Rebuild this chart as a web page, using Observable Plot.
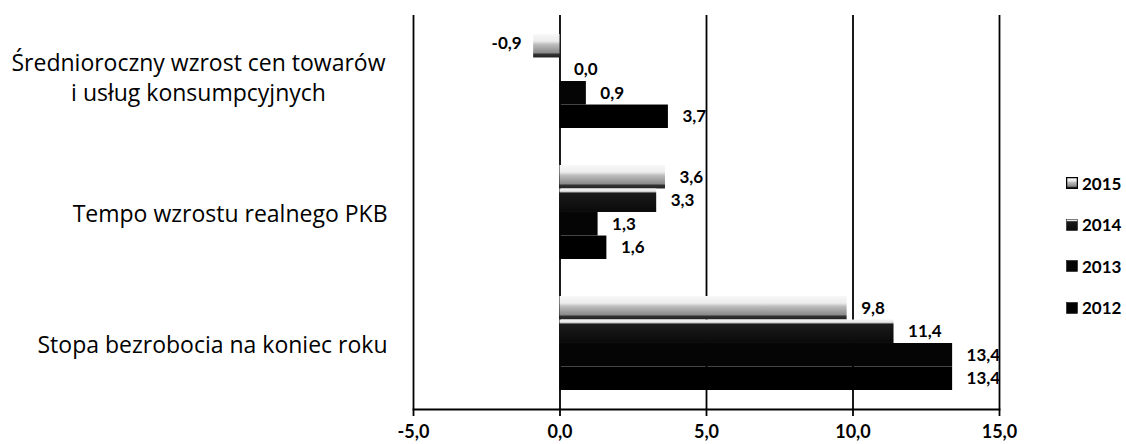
<!DOCTYPE html>
<html>
<head>
<meta charset="utf-8">
<script src="https://cdn.jsdelivr.net/npm/d3@7"></script>
<script src="https://cdn.jsdelivr.net/npm/@observablehq/plot@0.6"></script>
<style>
  body { margin: 0; background: #fff; }
  #chart { position: relative; width: 1126px; height: 444px; font-family: Lato, "Open Sans", sans-serif; color: #000; }
  #legend { position: absolute; left: 1066px; top: 0; font: bold 17px Lato, sans-serif; }
  .item { position: absolute; left: 0; display: flex; align-items: center; white-space: nowrap; }
  .item svg { margin-right: 4px; }
</style>
</head>
<body>
<svg width="0" height="0" style="position:absolute">
  <defs>
    <linearGradient id="g2015" x1="0" y1="0" x2="0" y2="1">
      <stop offset="0" stop-color="#f8f8f8"/>
      <stop offset="0.3" stop-color="#ececec"/>
      <stop offset="0.45" stop-color="#bcbcbc"/>
      <stop offset="0.8" stop-color="#8a8a8a"/>
      <stop offset="0.86" stop-color="#333"/>
      <stop offset="1" stop-color="#222"/>
    </linearGradient>
    <linearGradient id="g2014" x1="0" y1="0" x2="0" y2="1">
      <stop offset="0" stop-color="#f2f2f2"/>
      <stop offset="0.12" stop-color="#e6e6e6"/>
      <stop offset="0.2" stop-color="#1a1a1a"/>
      <stop offset="1" stop-color="#0a0a0a"/>
    </linearGradient>
  </defs>
</svg>
<div id="chart"><div id="legend"></div></div>
<script>
// ---- data ----
const categories = [
  "Średnioroczny wzrost cen towarów\ni usług konsumpcyjnych",
  "Tempo wzrostu realnego PKB",
  "Stopa bezrobocia na koniec roku"
];
const years = ["2015", "2014", "2013", "2012"];
const values2015 = [-0.9, 3.6, 9.8];
const values2014 = [0.0, 3.3, 11.4];
const values2013 = [0.9, 1.3, 13.4];
const values2012 = [3.7, 1.6, 13.4];
const xTicks = [-5, 0, 5, 10, 15];

// ---- build table ----
const seriesLists = [values2015, values2014, values2013, values2012];
const fills = ["url(#g2015)", "url(#g2014)", "#050505", "#000"];
const data = [];
years.forEach((yr, i) => seriesLists[i].forEach((v, j) => data.push({category: categories[j], year: yr, value: v})));

const fmt = v => v.toFixed(1).replace(".", ",");

// layout
const W = 1126, H = 444, mT = 15, mB = 35, mL = 413, mR = 127;
const padIn = 0.284, padOut = 0.142;
const step = (H - mT - mB) / (categories.length - padIn + 2 * padOut);
const bandW = step * (1 - padIn);
const sub = bandW / years.length;

const marks = [
  Plot.ruleX(xTicks, {stroke: "#000", strokeWidth: 1.8})
];
years.forEach((yr, i) => {
  const rows = data.filter(d => d.year === yr);
  marks.push(Plot.barX(rows, {
    x: "value", y: "category", fill: fills[i],
    insetTop: i * sub, insetBottom: (years.length - 1 - i) * sub
  }));
  const dy = -bandW / 2 + sub * (i + 0.5);
  marks.push(Plot.text(rows.filter(d => d.value >= 0), {
    x: "value", y: "category", text: d => fmt(d.value), dy, dx: 14,
    textAnchor: "start", fontSize: 17, fontWeight: "bold", fill: "#000"
  }));
  marks.push(Plot.text(rows.filter(d => d.value < 0), {
    x: "value", y: "category", text: d => fmt(d.value), dy: dy - 3, dx: -12,
    textAnchor: "end", fontSize: 17, fontWeight: "bold", fill: "#000"
  }));
});
const catLabelStyle = {fontSize: 23, lineHeight: 1.3, fill: "#000", fontFamily: "'Open Sans', sans-serif", frameAnchor: "left"};
// single-line labels: right-aligned block
marks.push(Plot.text(categories.filter(c => !c.includes("\n")), {
  y: d => d, text: d => d, dx: -26, textAnchor: "end", ...catLabelStyle
}));
// multi-line labels: lines centred within the block
marks.push(Plot.text(categories.filter(c => c.includes("\n")), {
  y: d => d, text: d => d, dx: -215, dy: -5, textAnchor: "middle", ...catLabelStyle
}));
marks.push(Plot.frame({anchor: "bottom", stroke: "#000", strokeWidth: 1.8}));
marks.push(Plot.axisX({ticks: xTicks, tickFormat: fmt, tickSize: 7, tickPadding: 9,
  fontSize: 18, fontWeight: "bold", label: null, stroke: "#000", strokeWidth: 1.8}));

const plot = Plot.plot({
  width: W, height: H,
  marginTop: mT, marginBottom: mB, marginLeft: mL, marginRight: mR,
  style: {fontFamily: "Lato, 'Open Sans', sans-serif", color: "#000", background: "#fff"},
  x: {domain: [-5, 15], axis: null},
  y: {domain: categories, axis: null, paddingInner: padIn, paddingOuter: padOut},
  marks
});
document.getElementById("chart").prepend(plot);

// legend
const legend = document.getElementById("legend");
years.forEach((yr, i) => {
  const item = document.createElement("div");
  item.className = "item";
  item.style.top = (183 + 41.5 * i - 10) + "px";
  item.style.height = "20px";
  item.innerHTML = `<svg width="12" height="12"><rect x="0.5" y="0.5" width="11" height="11" fill="${fills[i]}" stroke="#000" stroke-width="${i === 0 ? 1.5 : 0.5}"/></svg><span>${yr}</span>`;
  legend.appendChild(item);
});
</script>
</body>
</html>
